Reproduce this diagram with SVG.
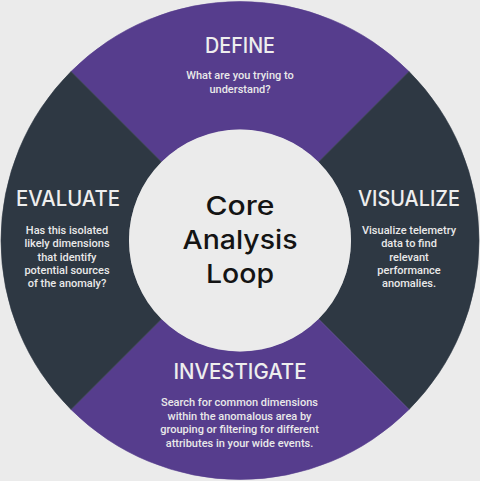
<svg xmlns="http://www.w3.org/2000/svg" width="480" height="481" viewBox="0 0 480 481">
  <style>
    .purple { fill: #563d8d; stroke: #563d8d; stroke-width: 0.6; }
    .slate { fill: #2e3843; stroke: #2e3843; stroke-width: 0.6; }
    .title { font-family: Inter, "Noto Sans", sans-serif; font-weight: 500; font-size: 21px; fill: #eeeeee; text-anchor: middle; }
    .body { font-family: Roboto, "Liberation Sans", sans-serif; font-weight: 500; font-size: 11px; fill: #e9e9e9; text-anchor: middle; }
    .core { font-family: Inter, "Noto Sans", sans-serif; font-weight: 500; font-size: 26px; fill: #141414; text-anchor: middle; }
  </style>
  <rect width="480" height="481" fill="#ebebeb"/>

  <!-- top quadrant -->
  <g id="define">
    <path class="purple" d="M71,71.5 A239,239 0 0 1 409,71.5 L318.5,162 A111,111 0 0 0 161.5,162 Z"/>
    <text class="title" x="240" y="52.5" textLength="70" lengthAdjust="spacingAndGlyphs">DEFINE</text>
    <text class="body" x="240" y="79">What are you trying to</text>
    <text class="body" x="240" y="92.5">understand?</text>
  </g>

  <!-- right quadrant -->
  <g id="visualize">
    <path class="slate" d="M409,71.5 A239,239 0 0 1 409,409.5 L318.5,319 A111,111 0 0 0 318.5,162 Z"/>
    <text class="title" x="409" y="206" textLength="102" lengthAdjust="spacingAndGlyphs">VISUALIZE</text>
    <text class="body" x="409" y="234">Visualize telemetry</text>
    <text class="body" x="409" y="247.3">data to find</text>
    <text class="body" x="409" y="260.6">relevant</text>
    <text class="body" x="409" y="273.9">performance</text>
    <text class="body" x="409" y="287.2">anomalies.</text>
  </g>

  <!-- bottom quadrant -->
  <g id="investigate">
    <path class="purple" d="M409,409.5 A239,239 0 0 1 71,409.5 L161.5,319 A111,111 0 0 0 318.5,319 Z"/>
    <text class="title" x="240" y="379" textLength="133" lengthAdjust="spacingAndGlyphs">INVESTIGATE</text>
    <text class="body" x="239.5" y="406">Search for common dimensions</text>
    <text class="body" x="239.5" y="419.5">within the anomalous area by</text>
    <text class="body" x="239.5" y="433">grouping or filtering for different</text>
    <text class="body" x="239.5" y="446.5">attributes in your wide events.</text>
  </g>

  <!-- left quadrant -->
  <g id="evaluate">
    <path class="slate" d="M71,409.5 A239,239 0 0 1 71,71.5 L161.5,162 A111,111 0 0 0 161.5,319 Z"/>
    <text class="title" x="68" y="206" textLength="104" lengthAdjust="spacingAndGlyphs">EVALUATE</text>
    <text class="body" x="67" y="234">Has this isolated</text>
    <text class="body" x="67" y="247.3">likely dimensions</text>
    <text class="body" x="67" y="260.6">that identify</text>
    <text class="body" x="67" y="273.9">potential sources</text>
    <text class="body" x="67" y="287.2">of the anomaly?</text>
  </g>

  <!-- hub -->
  <g id="core">
    <circle cx="240" cy="240.5" r="111" fill="#ebebeb"/>
    <text class="core" x="240" y="215" textLength="69" lengthAdjust="spacingAndGlyphs">Core</text>
    <text class="core" x="240" y="249" textLength="115" lengthAdjust="spacingAndGlyphs">Analysis</text>
    <text class="core" x="240" y="283" textLength="68" lengthAdjust="spacingAndGlyphs">Loop</text>
  </g>
</svg>
